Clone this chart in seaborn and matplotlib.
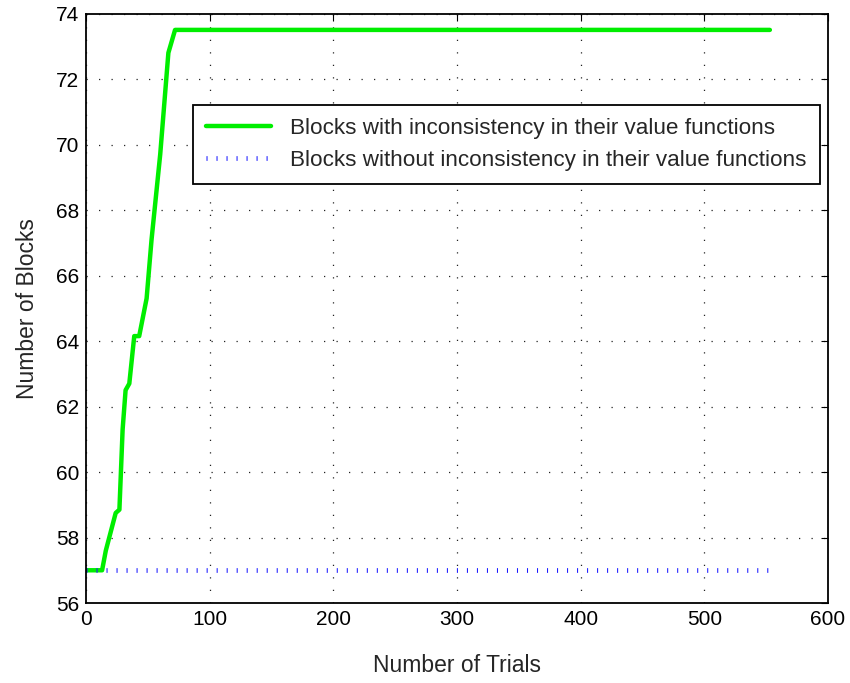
import matplotlib
matplotlib.use("Agg")
import matplotlib.pyplot as plt
import seaborn as sns
import pandas as pd

# Trials at which the count of inconsistent blocks changes, and the counts there
trials_incons = [0, 13, 16, 24, 27, 29.6, 32, 35, 39, 43, 49, 53, 60, 66.6, 72, 553]
blocks_incons = [57, 57, 57.6, 58.75, 58.85, 61.3, 62.5, 62.7, 64.15, 64.15, 65.3, 67.1, 69.7, 72.8, 73.5, 73.5]

# Blocks without inconsistency stay constant over all trials
trials_cons = [0, 553]
blocks_cons = [57, 57]

label_incons = "Blocks with inconsistency in their value functions"
label_cons = "Blocks without inconsistency in their value functions"

x_ticks = [0, 100, 200, 300, 400, 500, 600]
y_ticks = [56, 58, 60, 62, 64, 66, 68, 70, 72, 74]

sns.set_style("white")
plt.rcParams["font.family"] = ["Liberation Sans", "DejaVu Sans"]

df_incons = pd.DataFrame({"trials": trials_incons, "blocks": blocks_incons})
df_cons = pd.DataFrame({"trials": trials_cons, "blocks": blocks_cons})

fig = plt.figure(figsize=(8.5, 6.83), dpi=100)
ax = fig.add_axes([0.1012, 0.1171, 0.8729, 0.8631])

sns.lineplot(data=df_incons, x="trials", y="blocks", ax=ax, color="#00ee00",
             linewidth=3.2, label=label_incons, estimator=None, sort=False)
# thin vertical tick marks along the constant line
sns.lineplot(data=df_cons, x="trials", y="blocks", ax=ax, color="#1a1aff",
             linewidth=3.4, linestyle=(0, (0.22, 1.9)), dash_capstyle="butt",
             label=label_cons, estimator=None, sort=False)

ax.set_xlim(0, 600)
ax.set_ylim(56, 74)
ax.set_xticks(x_ticks)
ax.set_yticks(y_ticks)
ax.tick_params(direction="in", length=5, width=0.8, top=True, right=True,
               labelsize=15, colors="black", pad=5)
ax.grid(True, linestyle=(0, (1, 9)), color="#222222", linewidth=0.9)
for sp in ax.spines.values():
    sp.set_visible(True)
    sp.set_color("black")
    sp.set_linewidth(1.3)

ax.set_xlabel("Number of Trials", fontsize=16.5, labelpad=18)
ax.set_ylabel("Number of Blocks", fontsize=16.5, labelpad=12)

leg = ax.legend(loc="upper right", bbox_to_anchor=(0.989, 0.845), fontsize=16.2,
                frameon=True, fancybox=False, edgecolor="black",
                handlelength=2.9, handletextpad=0.85, borderpad=0.58,
                labelspacing=0.5, borderaxespad=0)
leg.get_frame().set_linewidth(1.3)
leg.get_frame().set_alpha(1)

fig.savefig("out.png", dpi=100)
